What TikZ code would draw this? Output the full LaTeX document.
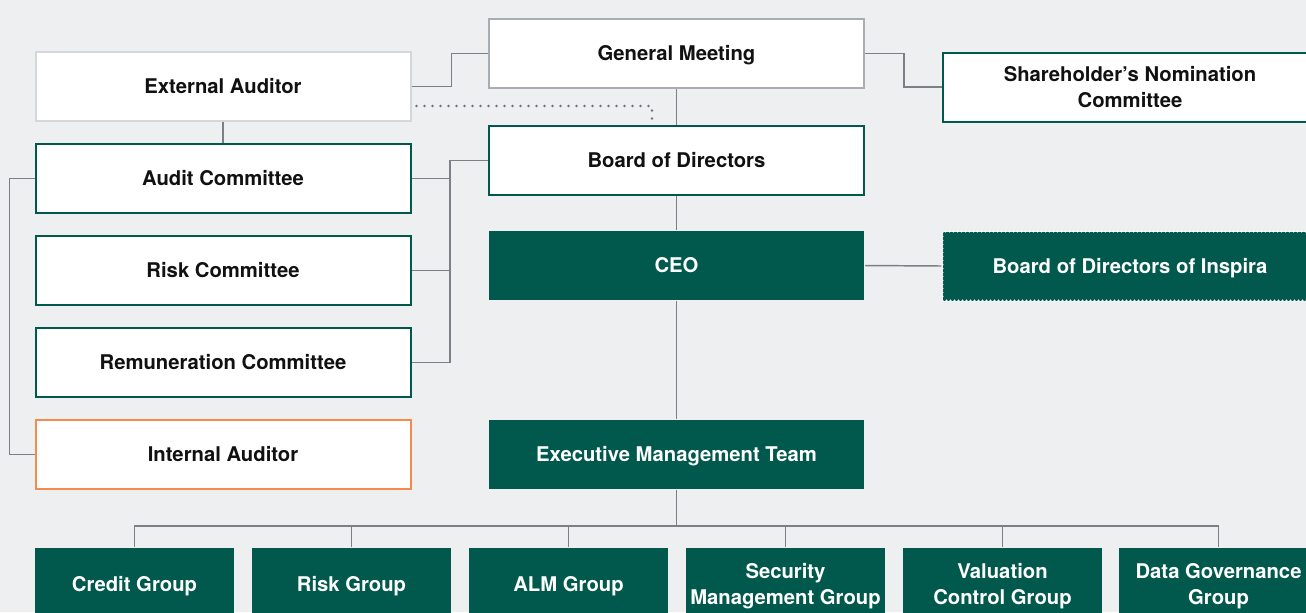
\documentclass[tikz,border=0pt]{standalone}
\usepackage{fontspec}
\setsansfont{TeX Gyre Heros}
\usetikzlibrary{calc}
\definecolor{bg}{HTML}{EEEFF1}
\definecolor{dgreen}{HTML}{00594C}
\definecolor{gmgray}{HTML}{A7ADB2}
\definecolor{eagray}{HTML}{D3D8DC}
\definecolor{orng}{HTML}{F58A4B}
\definecolor{lgray}{HTML}{7A8085}
\definecolor{txt}{HTML}{111111}
\begin{document}
\begin{tikzpicture}[x=0.75pt,y=-0.75pt,
  base/.style={rectangle,inner sep=0pt,line width=1.5pt,align=center,
    font=\sffamily\bfseries\fontsize{15.2}{20}\selectfont,
    text height=13.8pt,text depth=3pt,
    minimum width=281.25pt,minimum height=51.75pt},
  twoline/.style={text height=,text depth=0pt},
  wbox/.style={base,draw=dgreen,fill=white,text=txt},
  gbox/.style={base,fill=dgreen,text=white},
  grp/.style={base,fill=dgreen,text=white,minimum width=149.25pt,minimum height=54pt},
  conn/.style={draw=lgray,line width=1.1pt},
  dotline/.style={draw=lgray!90!black,line width=2.2pt,line cap=round,dash pattern=on 0pt off 6pt}
]
\useasboundingbox (0,0) rectangle (1306,612);
\fill[bg] (0,0) rectangle (1306,612);
\clip (0,0) rectangle (1306,612);

% nodes
\node[wbox,draw=gmgray] (GM) at (676.5,53.5) {General Meeting};
\node[wbox,draw=eagray] (ExtA) at (223,86.5) {External Auditor};
\node[wbox,twoline] (SNC) at (1130,87) {Shareholder’s Nomination\\Committee};
\node[wbox] (BoD) at (676.5,160.5) {Board of Directors};
\node[wbox] (Audit) at (223,178.5) {Audit Committee};
\node[wbox] (Risk) at (223,270.5) {Risk Committee};
\node[wbox] (Rem) at (223,362.5) {Remuneration Committee};
\node[wbox,draw=orng] (IntA) at (223,454.5) {Internal Auditor};
\node[gbox] (CEO) at (676.5,265.5) {CEO};
\node[gbox,draw=white,line width=1.6pt,line cap=round,dash pattern=on 0pt off 3pt] (Insp) at (1130,266) {Board of Directors of Inspira};
\node[gbox] (EMT) at (676.5,454) {Executive Management Team};

\node[grp] (g1) at (134.5,584) {Credit Group};
\node[grp] (g2) at (351.5,584) {Risk Group};
\node[grp] (g3) at (568.5,584) {ALM Group};
\node[grp,twoline] (g4) at (785.5,584) {Security\\Management Group};
\node[grp,twoline] (g5) at (1002.5,584) {Valuation\\Control Group};
\node[grp,twoline] (g6) at (1218.5,584) {Data Governance\\Group};

% connectors
\draw[conn] (ExtA.east) -- ++(40,0) |- (GM.west);
\draw[conn] (GM.east) -- ++(39,0) |- (SNC.west);
\draw[conn] (GM.south) -- (BoD.north);
\draw[conn] (BoD.south) -- (CEO.north);
\draw[conn] (CEO.south) -- (EMT.north);
\draw[conn] (CEO.east) -- (Insp.west);
\draw[conn] (ExtA.south) -- (Audit.north);
\coordinate (j) at ($(BoD.west)+(-38,0)$);
\draw[conn] (BoD.west) -- (j) |- (Rem.east);
\draw[conn] (Audit.east) -- (Audit.east -| j);
\draw[conn] (Risk.east) -- (Risk.east -| j);
\draw[conn] (Audit.west) -- ++(-25,0) |- (IntA.west);
\draw[dotline] ($(ExtA.east)+(5,19.5)$) -| ($(BoD.north)+(-24.5,-4)$);
\coordinate (bus) at ($(EMT.south)+(0,37)$);
\draw[conn] (EMT.south) -- (bus);
\draw[conn] (g1.north) -- ++(0,-21) -| (g6.north);
\foreach \g in {g2,g3,g4,g5}{\draw[conn] (\g.north) -- ++(0,-21);}
\end{tikzpicture}
\end{document}
